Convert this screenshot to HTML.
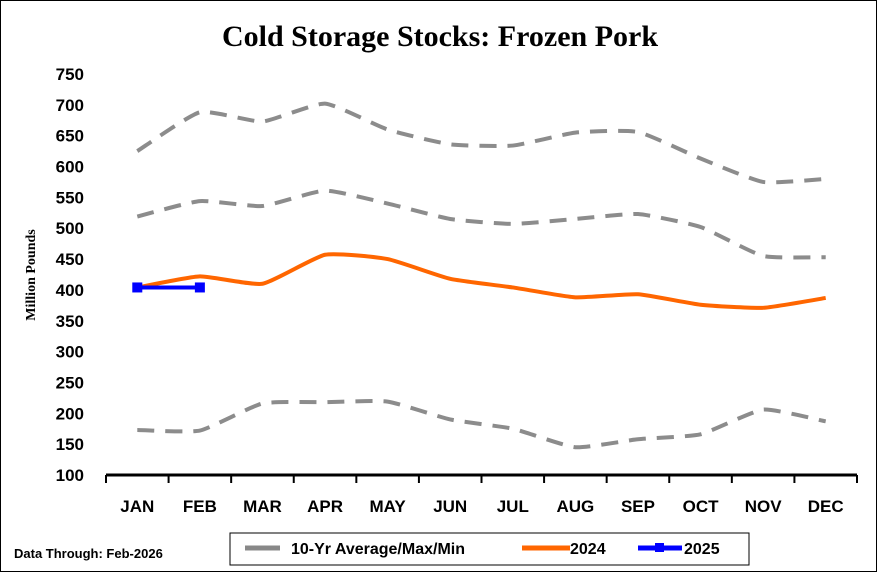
<!DOCTYPE html>
<html><head><meta charset="utf-8"><style>
body{margin:0;background:#fff;}
svg{display:block;font-family:"Liberation Sans",Arial,sans-serif;}
</style></head><body>
<svg width="877" height="572" id="c">
<rect x="0.5" y="0.5" width="876" height="571" fill="#fff" stroke="#000"/>
<text x="440" y="46" text-anchor="middle" font-family="Liberation Serif,serif" font-weight="bold" font-size="30">Cold Storage Stocks: Frozen Pork</text>
<text transform="translate(35,275) rotate(-90)" text-anchor="middle" font-family="Liberation Serif,serif" font-weight="bold" font-size="14">Million Pounds</text>
<g id="yt"></g><g id="xt"></g><g id="series"></g>
<rect x="230" y="533" width="519" height="32" fill="#fff" stroke="#000"/>
<line x1="245" y1="548" x2="280" y2="548" stroke="#888" stroke-width="5"/>
<text x="291" y="554" font-size="16" font-weight="bold">10-Yr Average/Max/Min</text>
<line x1="522" y1="548" x2="570" y2="548" stroke="#ff6600" stroke-width="5"/>
<text x="570" y="554" font-size="16" font-weight="bold">2024</text>
<line x1="638" y1="548" x2="682" y2="548" stroke="#0000ff" stroke-width="5"/>
<rect x="655" y="543" width="9" height="9" fill="#0000ff"/>
<text x="684" y="554" font-size="16" font-weight="bold">2025</text>
<text x="14" y="558" font-size="13" font-weight="bold">Data Through: Feb-2026</text>
</svg>
<script>
const months=["JAN","FEB","MAR","APR","MAY","JUN","JUL","AUG","SEP","OCT","NOV","DEC"];
const yTicks=[100,150,200,250,300,350,400,450,500,550,600,650,700,750];
const maxVals=[625,688,673,702,660,636,634,655,656,613,575,580];
const avgVals=[519,544,536,561,540,515,507,515,523,502,455,453];
const minVals=[173,172,216,218,219,190,175,145,158,166,206,187];
const vals2024=[404,422,410,457,450,418,404,388,393,376,371,387];
const vals2025=[404,404];
const NS="http://www.w3.org/2000/svg";
const L=106,R=857,T=74,B=475;
const step=(R-L)/12;
const xs=i=>L+step*(i+0.5);
const ys=v=>B-(v-100)/650*(B-T);
function mk(t,a,p){const e=document.createElementNS(NS,t);for(const k in a)e.setAttribute(k,a[k]);document.getElementById(p).appendChild(e);return e;}
yTicks.forEach(v=>{const t=mk('text',{x:84,y:ys(v)+6,'text-anchor':'end','font-size':17,'font-weight':'bold'},'yt');t.textContent=v;

});
const ax=mk('line',{x1:L,y1:B,x2:R,y2:B,stroke:'#000','stroke-width':3},'xt');


for(let i=0;i<=12;i++){const tk=mk('line',{x1:L+step*i,y1:B,x2:L+step*i,y2:B+8,stroke:'#000','stroke-width':2},'xt');

}
months.forEach((m,i)=>{const t=mk('text',{x:xs(i),y:512,'text-anchor':'middle','font-size':17,'font-weight':'bold'},'xt');t.textContent=m;

});
function path(arr){const k=12;const p=arr.map((v,i)=>[xs(i),ys(v)]);let d=`M${p[0][0]},${p[0][1]}`;
for(let i=0;i<p.length-1;i++){const p0=p[i-1]||p[i],p1=p[i],p2=p[i+1],p3=p[i+2]||p2;
const c1=[p1[0]+(p2[0]-p0[0])/k,p1[1]+(p2[1]-p0[1])/k],c2=[p2[0]-(p3[0]-p1[0])/k,p2[1]-(p3[1]-p1[1])/k];
d+=` C${c1[0]},${c1[1]} ${c2[0]},${c2[1]} ${p2[0]},${p2[1]}`;}return d;}
[[maxVals,'line-10yr-max'],[avgVals,'line-10yr-average'],[minVals,'line-10yr-min']].forEach(([a,n])=>{
const e=mk('path',{d:path(a),fill:'none',stroke:'#8c8c8c','stroke-width':4,'stroke-dasharray':'17 11'},'series');

});
const o=mk('path',{d:path(vals2024),fill:'none',stroke:'#ff6600','stroke-width':4},'series');


const b=mk('path',{d:path(vals2025),fill:'none',stroke:'#0000ff','stroke-width':4},'series');


vals2025.forEach((v,i)=>{const r=mk('rect',{x:xs(i)-5,y:ys(v)-5,width:10,height:10,fill:'#0000ff'},'series');

});
</script>
</body></html>
